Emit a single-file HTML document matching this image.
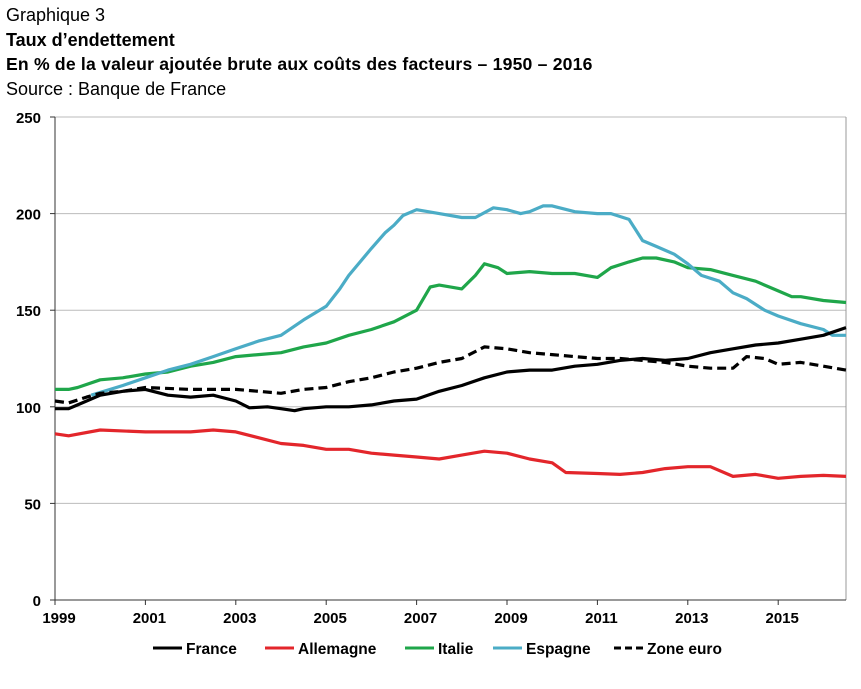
<!DOCTYPE html><html><head><meta charset="utf-8"><style>
body{margin:0;background:#fff;width:861px;height:689px;overflow:hidden;font-family:"Liberation Sans",Arial,sans-serif}
.t{position:absolute;left:6px;font-size:18px;color:#000;white-space:nowrap}
</style></head><body>
<div class="t" style="top:5px">Graphique 3</div>
<div class="t" style="top:30px;font-weight:bold">Taux d’endettement</div>
<div class="t" style="top:54px;font-weight:bold;font-size:17.6px;letter-spacing:0.2px">En % de la valeur ajoutée brute aux coûts des facteurs – 1950 – 2016</div>
<div class="t" style="top:79px">Source : Banque de France</div>
<svg id="s" width="861" height="689" style="position:absolute;left:0;top:0" xmlns="http://www.w3.org/2000/svg"></svg>
<script>
const X=y=>55+(y-1999)*45.2, Y=v=>600-v*1.932;
let h='';
[50,100,150,200,250].forEach(v=>h+=`<line x1="55" x2="846" y1="${Y(v)}" y2="${Y(v)}" stroke="#bbb" stroke-width="1"/>`);
h+=`<line x1="846" x2="846" y1="${Y(250)}" y2="600" stroke="#999"/>`;
h+=`<line x1="55" x2="55" y1="${Y(250)}" y2="600" stroke="#333"/><line x1="55" x2="846" y1="600" y2="600" stroke="#333"/>`;
[0,50,100,150,200,250].forEach(v=>{h+=`<line x1="50" x2="55" y1="${Y(v)}" y2="${Y(v)}" stroke="#333"/><text x="41" y="${Y(v)+6}" text-anchor="end" font-size="15" font-weight="bold">${v}</text>`});
for(let y=1999;y<=2015;y+=2){h+=`<line x1="${X(y)}" x2="${X(y)}" y1="600" y2="605" stroke="#333"/><text x="${X(y)+4}" y="623" text-anchor="middle" font-size="15" font-weight="bold">${y}</text>`}
const D={
fr:[[1999,99],[1999.3,99],[1999.5,101],[2000,106],[2000.5,108],[2001,109],[2001.5,106],[2002,105],[2002.5,106],[2003,103],[2003.3,99.5],[2003.7,100],[2004,99],[2004.3,98],[2004.5,99],[2005,100],[2005.5,100],[2006,101],[2006.5,103],[2007,104],[2007.5,108],[2008,111],[2008.5,115],[2009,118],[2009.5,119],[2010,119],[2010.5,121],[2011,122],[2011.5,124],[2012,125],[2012.5,124],[2013,125],[2013.5,128],[2014,130],[2014.5,132],[2015,133],[2015.5,135],[2016,137],[2016.5,141]],
de:[[1999,86],[1999.3,85],[2000,88],[2001,87],[2002,87],[2002.5,88],[2003,87],[2003.5,84],[2004,81],[2004.5,80],[2005,78],[2005.5,78],[2006,76],[2006.5,75],[2007,74],[2007.5,73],[2008,75],[2008.5,77],[2009,76],[2009.5,73],[2010,71],[2010.3,66],[2011,65.5],[2011.5,65],[2012,66],[2012.5,68],[2013,69],[2013.5,69],[2014,64],[2014.5,65],[2015,63],[2015.5,64],[2016,64.5],[2016.5,64]],
it:[[1999,109],[1999.3,109],[1999.5,110],[2000,114],[2000.5,115],[2001,117],[2001.5,118],[2002,121],[2002.5,123],[2003,126],[2003.5,127],[2004,128],[2004.5,131],[2005,133],[2005.5,137],[2006,140],[2006.5,144],[2007,150],[2007.3,162],[2007.5,163],[2008,161],[2008.3,168],[2008.5,174],[2008.8,172],[2009,169],[2009.5,170],[2010,169],[2010.5,169],[2011,167],[2011.3,172],[2011.7,175],[2012,177],[2012.3,177],[2012.7,175],[2013,172],[2013.5,171],[2014,168],[2014.5,165],[2015,160],[2015.3,157],[2015.5,157],[2016,155],[2016.5,154]],
es:[[1999.8,106],[2000.5,111],[2001,115],[2001.5,119],[2002,122],[2002.5,126],[2003,130],[2003.5,134],[2004,137],[2004.5,145],[2005,152],[2005.3,161],[2005.5,168],[2006,182],[2006.3,190],[2006.5,194],[2006.7,199],[2007,202],[2007.5,200],[2008,198],[2008.3,198],[2008.7,203],[2009,202],[2009.3,200],[2009.5,201],[2009.8,204],[2010,204],[2010.5,201],[2011,200],[2011.3,200],[2011.7,197],[2012,186],[2012.3,183],[2012.7,179],[2013,174],[2013.3,168],[2013.7,165],[2014,159],[2014.3,156],[2014.7,150],[2015,147],[2015.5,143],[2016,140],[2016.2,137],[2016.5,137]],
ze:[[1999,103],[1999.3,102],[1999.7,105],[2000,107],[2000.5,108],[2001,110],[2002,109],[2002.5,109],[2003,109],[2003.5,108],[2004,107],[2004.5,109],[2005,110],[2005.5,113],[2006,115],[2006.5,118],[2007,120],[2007.5,123],[2008,125],[2008.5,131],[2009,130],[2009.5,128],[2010,127],[2010.5,126],[2011,125],[2011.5,125],[2012,124],[2012.5,123],[2013,121],[2013.5,120],[2014,120],[2014.3,126],[2014.7,125],[2015,122],[2015.5,123],[2016,121],[2016.5,119]]};
const P=a=>a.map(p=>X(p[0]).toFixed(1)+','+Y(p[1]).toFixed(1)).join(' ');
const S=(k,c,d)=>h+=`<polyline points="${P(D[k])}" fill="none" stroke="${c}" stroke-width="3.2" stroke-linejoin="round" ${d?'stroke-dasharray="9,5"':''}/>`;
S('de','#e3262b');S('it','#1fa64a');S('es','#4bacc6');S('ze','#000',1);S('fr','#000');
const L=[[153,'France','#000'],[265,'Allemagne','#e3262b'],[405,'Italie','#1fa64a'],[493,'Espagne','#4bacc6'],[614,'Zone euro','#000',1]];
L.forEach(l=>h+=`<line x1="${l[0]}" x2="${l[0]+29}" y1="648" y2="648" stroke="${l[2]}" stroke-width="3" ${l[3]?'stroke-dasharray="7,4"':''}/><text x="${l[0]+33}" y="654" font-size="15.5" font-weight="bold">${l[1]}</text>`);
document.getElementById('s').innerHTML=h;
</script></body></html>
